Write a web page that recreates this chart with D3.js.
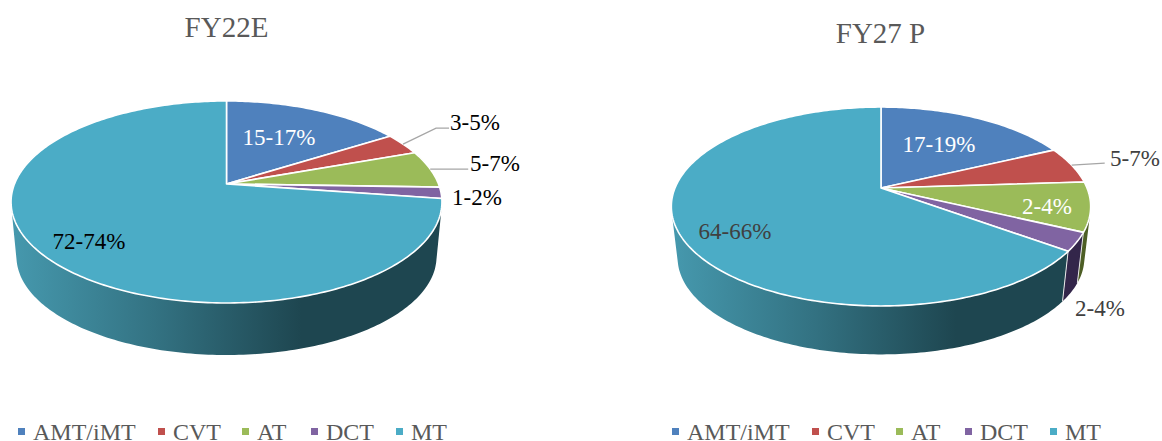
<!DOCTYPE html>
<html>
<head>
<meta charset="utf-8">
<script src="https://cdn.jsdelivr.net/npm/d3@7"></script>
<style>
  html, body { margin: 0; padding: 0; background: #fff; }
  svg { display: block; font-family: "Liberation Serif", serif; }
</style>
</head>
<body>
<svg id="chart" width="1162" height="441"></svg>
<script>
// Data
const categories = ["AMT/iMT", "CVT", "AT", "DCT", "MT"];
const valuesFY22 = [16, 3.5, 6, 1.8, 72.7];
const valuesFY27 = [18, 6, 8, 3, 65];
const labelsFY22 = ["15-17%", "3-5%", "5-7%", "1-2%", "72-74%"];
const labelsFY27 = ["17-19%", "5-7%", "2-4%", "2-4%", "64-66%"];

const colors = ["#4f81bd", "#c0504d", "#9bbb59", "#8064a2", "#4bacc6"];
const wallColors = ["#2a4565", "#672b29", "#4d5e25", "#33264a", "#1e4650"];

// Layout
const charts = [
  {
    title: "FY22E", titleX: 226.5, titleY: 37, values: valuesFY22, labels: labelsFY22,
    cx: 226.5, cy: 184, a: 212, b: 97.8, k: 0.178, depth: 55, shrink: 0.975, legendDx: 0,
    text: [
      { x: 279, y: 145, fill: "#fff" },
      { x: 475, y: 130, fill: "#000", lead: [[0, 0], [33, -16], [46, -16]] },
      { x: 495, y: 171, fill: "#000", lead: [[0, 0], [38, 0]] },
      { x: 477, y: 205, fill: "#000" },
      { x: 89, y: 249, fill: "#000" },
    ],
  },
  {
    title: "FY27 P", titleX: 880.5, titleY: 43, values: valuesFY27, labels: labelsFY27,
    cx: 881, cy: 188, a: 206, b: 96, k: 0.186, depth: 52, shrink: 0.97, legendDx: 654,
    text: [
      { x: 939, y: 152, fill: "#fff" },
      { x: 1135, y: 166, fill: "#404040", lead: [[0, 0], [33, -2]] },
      { x: 1047, y: 214, fill: "#fff" },
      { x: 1100, y: 316, fill: "#404040" },
      { x: 735, y: 239, fill: "#404040" },
    ],
  },
];

const legendX = [18, 158, 242, 311, 396];
const deg = Math.PI / 180;

const svg = d3.select("#chart");
const defs = svg.append("defs");
const line = d3.line();

charts.forEach((c, ci) => {
  const g = svg.append("g");

  // Pie angles run clockwise from the top, the tilt pulls the centre up
  const arcs = d3.pie().sort(null).value((d) => d)(c.values);

  const top = (t) => {
    const x = Math.sin(t);
    const y = -Math.cos(t);
    const d = 1 - c.k * y;
    return [c.cx + (c.a * x) / d, c.cy + (c.b * y) / d];
  };
  const bottom = (t) => {
    const p = top(t);
    return [
      c.cx + (p[0] - c.cx) * c.shrink,
      c.cy + c.depth + (p[1] - c.cy) * c.shrink,
    ];
  };
  const steps = (a0, a1) => {
    const n = Math.max(2, Math.ceil((a1 - a0) / deg));
    return d3.range(n + 1).map((i) => a0 + ((a1 - a0) * i) / n);
  };

  // Side wall gradient of the big slice
  const gradId = `wall-${ci}`;
  const grad = defs
    .append("linearGradient")
    .attr("id", gradId)
    .attr("gradientUnits", "userSpaceOnUse")
    .attr("x1", c.cx - c.a - 4)
    .attr("x2", c.cx + 75)
    .attr("y1", 0)
    .attr("y2", 0);
  grad.append("stop").attr("offset", 0).attr("stop-color", "#4699ae");
  grad.append("stop").attr("offset", 0.5).attr("stop-color", "#337282");
  grad.append("stop").attr("offset", 1).attr("stop-color", "#1e4650");

  // Walls: one quad per step, all wound the same way so the fill is their union
  arcs.forEach((d, i) => {
    const a0 = Math.max(d.startAngle, 70 * deg);
    const a1 = Math.min(d.endAngle, 290 * deg);
    if (a1 <= a0) return;
    const ts = steps(a0, a1);
    const quads = d3.pairs(ts).map(([t0, t1]) => {
      const q = [top(t0), top(t1), bottom(t1), bottom(t0)];
      return line(d3.polygonArea(q) < 0 ? q.reverse() : q) + "Z";
    });
    g.append("path")
      .attr("d", quads.join(""))
      .attr("fill", i === 4 ? `url(#${gradId})` : wallColors[i]);
    if (a0 > 100 * deg) {
      g.append("path")
        .attr("d", line([top(a0), bottom(a0)]))
        .attr("stroke", "#e8e8e8")
        .attr("stroke-width", 1);
    }
  });

  // Top face
  arcs.forEach((d, i) => {
    const pts = [[c.cx, c.cy], ...steps(d.startAngle, d.endAngle).map(top)];
    g.append("path")
      .attr("d", line(pts) + "Z")
      .attr("fill", colors[i])
      .attr("stroke", "#fff")
      .attr("stroke-width", 1.6)
      .attr("stroke-linejoin", "round");
  });

  // Leader lines start at the middle of the slice rim
  arcs.forEach((d, i) => {
    const lead = c.text[i].lead;
    if (!lead) return;
    const start = top((d.startAngle + d.endAngle) / 2);
    const pts = lead.map((o) => [start[0] + o[0], start[1] + o[1]]);
    g.append("path")
      .attr("d", line(pts))
      .attr("fill", "none")
      .attr("stroke", "#a6a6a6")
      .attr("stroke-width", 1.3);
  });

  // Data labels
  g.selectAll(".label")
    .data(c.labels)
    .join("text")
    .attr("class", "label")
    .attr("x", (d, i) => c.text[i].x)
    .attr("y", (d, i) => c.text[i].y)
    .attr("text-anchor", "middle")
    .attr("font-size", 23)
    .attr("fill", (d, i) => c.text[i].fill)
    .text((d) => d);

  // Title
  g.append("text")
    .attr("x", c.titleX)
    .attr("y", c.titleY)
    .attr("text-anchor", "middle")
    .attr("font-size", 29)
    .attr("fill", "#595959")
    .text(c.title);

  // Legend
  const item = g
    .selectAll(".legend-item")
    .data(categories)
    .join("g")
    .attr("class", "legend-item")
    .attr("transform", (d, i) => `translate(${legendX[i] + c.legendDx},0)`);
  item
    .append("rect")
    .attr("y", 428)
    .attr("width", 7)
    .attr("height", 7)
    .attr("fill", (d, i) => colors[i]);
  item
    .append("text")
    .attr("x", 15)
    .attr("y", 440)
    .attr("font-size", 24)
    .attr("fill", "#595959")
    .text((d) => d);
});
</script>
</body>
</html>
